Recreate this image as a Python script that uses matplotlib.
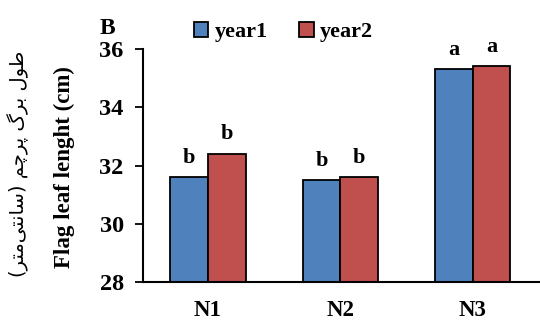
import matplotlib
matplotlib.use("Agg")
import matplotlib.pyplot as plt
import numpy as np

categories = ["N1", "N2", "N3"]
year1 = [31.6, 31.5, 35.3]
year2 = [32.4, 31.6, 35.4]
letters1 = ["b", "b", "a"]
letters2 = ["b", "b", "a"]
yticks = [28, 30, 32, 34, 36]

# Persian label in visual order (presentation forms, right-to-left reversed)
fa_label = ("(" + "\uFEAE\uFE98\uFEE3" + "\uFBFD\uFE98\uFEE7\uFE8E\uFEB3" + ") "
            + "\uFEE2\uFB7C\uFEAE\uFB58" + " "
            + "\uFB92\uFEAE\uFE91" + " "
            + "\uFEDD\uFEEE\uFEC3")

plt.rcParams["font.family"] = ["Liberation Serif", "DejaVu Serif"]

fig = plt.figure(figsize=(5.4, 3.22), dpi=100)
ax = fig.add_axes([0.265, 0.124, 0.735, 0.724])

x = np.arange(len(categories))
w = 0.285
c1, c2 = "#4F81BD", "#C0504D"
ax.bar(x - w / 2, year1, w, color=c1, edgecolor="black", linewidth=1.3, label="year1")
ax.bar(x + w / 2, year2, w, color=c2, edgecolor="black", linewidth=1.3, label="year2")

for i in range(len(categories)):
    ax.text(x[i] - w / 2, year1[i] + 0.5, letters1[i], ha="center", va="baseline",
            fontsize=16, fontweight="bold")
    ax.text(x[i] + w / 2, year2[i] + 0.5, letters2[i], ha="center", va="baseline",
            fontsize=16, fontweight="bold")

ax.set_xlim(-0.49, 2.51)
ax.set_ylim(28, 36)
ax.set_yticks(yticks)
ax.set_xticks(x)
ax.set_xticklabels(categories, fontsize=16.5, fontweight="bold")
ax.tick_params(axis="x", length=0, pad=13)
ax.tick_params(axis="y", direction="out", length=6, width=1.3, labelsize=17.5, pad=8)
for lab in ax.get_yticklabels():
    lab.set_fontweight("bold")
for s in ["top", "right"]:
    ax.spines[s].set_visible(False)
for s in ["left", "bottom"]:
    ax.spines[s].set_linewidth(1.5)

fig.legend(loc="center", bbox_to_anchor=(0.525, 0.9), ncol=2, frameon=False,
           prop={"weight": "bold", "size": 16}, handlelength=0.65, handleheight=0.65,
           handletextpad=0.3, columnspacing=1.4, borderpad=0.1)

fig.text(0.185, 0.912, "B", fontsize=17, fontweight="bold", ha="left", va="center")
fig.text(0.12, 0.48, "Flag leaf lenght (cm)", rotation=90, fontsize=16.5,
         fontweight="bold", ha="center", va="center")
fig.text(0.034, 0.49, fa_label, rotation=90, fontsize=14,
         family=["DejaVu Sans"], ha="center", va="center")

fig.savefig("out.png", dpi=100)
